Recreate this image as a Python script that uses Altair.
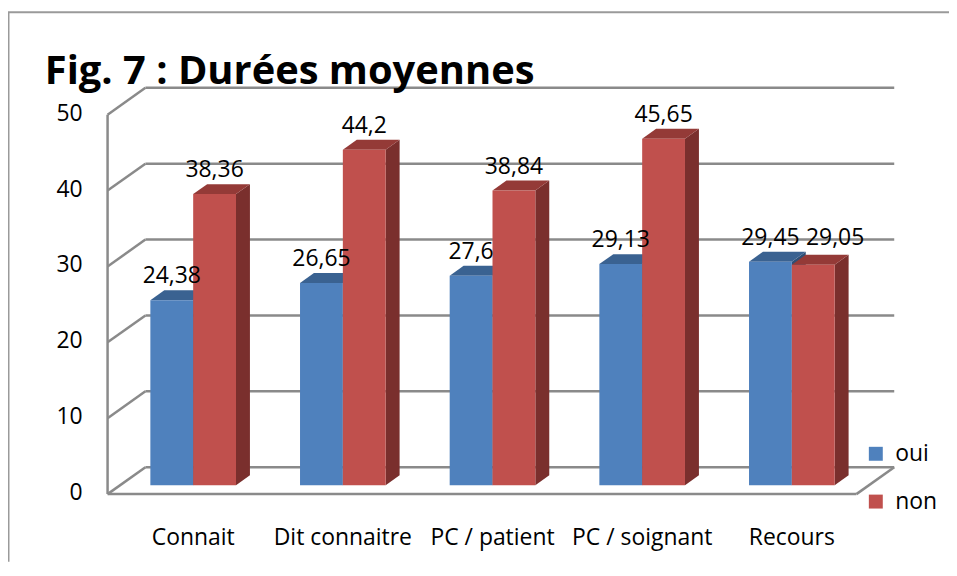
import altair as alt
import pandas as pd

# ---------------- data ----------------
categories = ["Connait", "Dit connaitre", "PC / patient", "PC / soignant", "Recours"]
series = ["oui", "non"]
oui = [24.38, 26.65, 27.6, 29.13, 29.45]
non = [38.36, 44.2, 38.84, 45.65, 29.05]
y_ticks = [0, 10, 20, 30, 40, 50]
title_text = "Fig. 7 : Durées moyennes"

# ---------------- layout / style constants ----------------
W, H = 945, 555
PX_CAT = 150.3          # pixels per category
PX_UNIT = 7.62          # pixels per value unit
ORIGIN_X = 181.3 - 8    # pixel of front-plane X=0 inside the view
ORIGIN_Y = 495 - 8      # pixel of front-plane value 0 inside the view
DX = 38 / PX_CAT        # depth of the floor (x)
DV = 27 / PX_UNIT       # depth of the floor (y)
X_LF = (108 - 8 - ORIGIN_X) / PX_CAT
X_RF = (860 - 8 - ORIGIN_X) / PX_CAT
BX, BV = DX / 3, DV / 3            # bar plane shift
BW = 43 / PX_CAT                   # bar width
BDX, BDV = 14 / PX_CAT, 10 / PX_UNIT  # bar depth

FONT = "Open Sans"
FS = 23
FRONT = {"oui": "#4F81BD", "non": "#C0504D"}
TOP = {"oui": "#3A6291", "non": "#943A37"}
SIDE = {"oui": "#2F4F75", "non": "#7A2F2D"}
GRID = "#8A8A8A"

xs = alt.Scale(domain=[-ORIGIN_X / PX_CAT, (W - ORIGIN_X) / PX_CAT], nice=False, zero=False)
ys = alt.Scale(domain=[(ORIGIN_Y - H) / PX_UNIT, ORIGIN_Y / PX_UNIT], nice=False, zero=False)

# ---------------- tables ----------------
front_rows, face_rows, label_rows = [], [], []
for i, cat in enumerate(categories):
    vals = {"oui": oui[i], "non": non[i]}
    for s in series:
        v = vals[s]
        l = i - BW + BX if s == "oui" else i + BX
        r = l + BW
        b, t = BV, v + BV
        front_rows.append({"series": s, "x": l, "x2": r, "y": b, "y2": t})
        # side face
        pid = f"side-{s}-{i}"
        face_rows.append({"id": pid, "kind": "side", "s": s, "fill": SIDE[s], "x": r, "y": b, "y2": t})
        face_rows.append({"id": pid, "kind": "side", "s": s, "fill": SIDE[s], "x": r + BDX, "y": b + BDV, "y2": t + BDV})
        # top face
        pid = f"top-{s}-{i}"
        for (px, py, py2) in [(l, t, t), (l + BDX, t, t + BDV), (r, t, t + BDV), (r + BDX, t + BDV, t + BDV)]:
            face_rows.append({"id": pid, "kind": "top", "s": s, "fill": TOP[s], "x": px, "y": py, "y2": py2})
    # labels
    close = abs(oui[i] - non[i]) < 3
    top_lab = max(oui[i], non[i]) if close else None
    for s in series:
        v = vals[s]
        cx = (i - BW / 2 + BX) if s == "oui" else (i + BW / 2 + BX)
        if close and s == "non":
            cx += 22 / PX_CAT
        yy = (top_lab if close else v) + BV + BDV
        label_rows.append({"x": cx, "y": yy, "text": f"{v:g}".replace(".", ",")})

front_df = pd.DataFrame(front_rows)
face_df = pd.DataFrame(face_rows)
label_df = pd.DataFrame(label_rows)

# grid / walls
rule_rows = []
for v in y_ticks:
    rule_rows.append({"x": X_LF + DX, "y": v + DV, "x2": X_RF + DX, "y2": v + DV})
    rule_rows.append({"x": X_LF, "y": v, "x2": X_LF + DX, "y2": v + DV})
rule_rows.append({"x": X_LF, "y": 0, "x2": X_RF, "y2": 0})
rule_rows.append({"x": X_RF, "y": 0, "x2": X_RF + DX, "y2": DV})
rule_rows.append({"x": X_LF, "y": 0, "x2": X_LF, "y2": max(y_ticks)})
rule_df = pd.DataFrame(rule_rows)

tick_df = pd.DataFrame({"x": [X_LF] * len(y_ticks), "y": y_ticks, "text": [str(t) for t in y_ticks]})
cat_df = pd.DataFrame({"x": [i + BX for i in range(len(categories))], "y": [0] * len(categories), "text": categories})

# ---------------- layers ----------------
X = lambda f="x": alt.X(f"{f}:Q", scale=xs, axis=None)
Y = lambda f="y": alt.Y(f"{f}:Q", scale=ys, axis=None, stack=None)

grid = alt.Chart(rule_df).mark_rule(color=GRID, strokeWidth=2.5).encode(
    x=X(), y=Y(), x2="x2:Q", y2="y2:Q"
)

sides = alt.Chart(face_df).transform_filter(alt.datum.kind == "side").mark_area(
    interpolate="linear", strokeWidth=0
).encode(x=X(), y=Y(), y2="y2:Q", detail="id:N", fill=alt.Fill("fill:N", scale=None))

tops_non = alt.Chart(face_df).transform_filter(
    (alt.datum.kind == "top") & (alt.datum.s == "non")
).mark_area(interpolate="linear", strokeWidth=0).encode(
    x=X(), y=Y(), y2="y2:Q", detail="id:N", fill=alt.Fill("fill:N", scale=None))

tops_oui = alt.Chart(face_df).transform_filter(
    (alt.datum.kind == "top") & (alt.datum.s == "oui")
).mark_area(interpolate="linear", strokeWidth=0).encode(
    x=X(), y=Y(), y2="y2:Q", detail="id:N", fill=alt.Fill("fill:N", scale=None))

fronts = alt.Chart(front_df).mark_rect(strokeWidth=0).encode(
    x=X(), x2="x2:Q", y=Y(), y2="y2:Q",
    color=alt.Color(
        "series:N",
        scale=alt.Scale(domain=series, range=[FRONT[s] for s in series]),
        legend=alt.Legend(
            title=None, orient="none", legendX=860, legendY=435,
            symbolType="square", symbolSize=196, symbolStrokeWidth=0,
            symbolOpacity=1, labelFont=FONT, labelFontSize=FS,
            labelColor="#000000", rowPadding=24, labelOffset=8, padding=0,
        ),
    ),
)

labels = alt.Chart(label_df).mark_text(
    font=FONT, fontSize=FS, baseline="bottom", align="center", dy=-2, color="#000000"
).encode(x=X(), y=Y(), text="text:N")

ticks = alt.Chart(tick_df).mark_text(
    font=FONT, fontSize=FS, baseline="middle", align="right", dx=-25, dy=-1, color="#000000"
).encode(x=X(), y=Y(), text="text:N")

cats = alt.Chart(cat_df).mark_text(
    font=FONT, fontSize=FS, baseline="middle", align="center", dy=44, color="#000000"
).encode(x=X(), y=Y(), text="text:N")

title = alt.Chart(pd.DataFrame({"t": [title_text]})).mark_text(
    font=FONT, fontSize=40, fontWeight="bold", align="left", baseline="alphabetic", color="#000000"
).encode(x=alt.value(37), y=alt.value(75), text="t:N")

frame_top = alt.Chart(pd.DataFrame({"a": [0]})).mark_rule(color="#9A9A9A", strokeWidth=2).encode(
    x=alt.value(0), x2=alt.value(W), y=alt.value(3))
frame_left = alt.Chart(pd.DataFrame({"a": [0]})).mark_rule(color="#9A9A9A", strokeWidth=2).encode(
    x=alt.value(0.5), y=alt.value(3), y2=alt.value(H))

chart = alt.layer(
    frame_top, frame_left, grid, sides, tops_non, tops_oui, fronts, labels, ticks, cats, title
).properties(
    width=W, height=H,
    autosize=alt.AutoSizeParams(type="none"),
    padding={"left": 0, "top": 0, "right": 0, "bottom": 0},
    background="white",
).configure_view(stroke=None)

chart.save("out.html", embed_options={"renderer": "svg", "actions": False})
